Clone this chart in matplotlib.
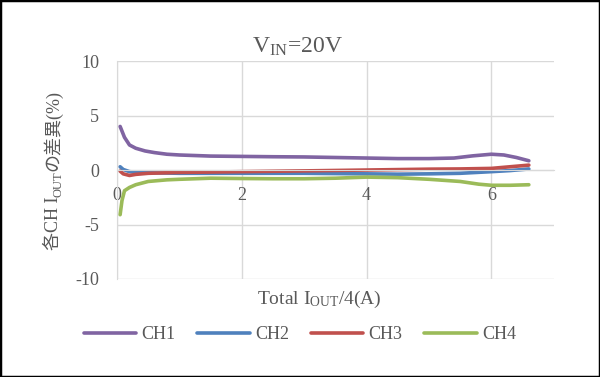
import matplotlib
matplotlib.use("Agg")
import matplotlib.pyplot as plt
from matplotlib.patches import Rectangle

plt.rcParams['font.family'] = ['Liberation Serif', 'Noto Sans CJK JP']
plt.rcParams['mathtext.fontset'] = 'custom'
plt.rcParams['mathtext.rm'] = 'Liberation Serif'
plt.rcParams['axes.unicode_minus'] = False

# データ
x_ch1 = [0.05, 0.12, 0.2, 0.3, 0.45, 0.6, 0.8, 1.0, 1.5, 2.0, 2.5, 3.0, 3.5, 4.0, 4.5, 5.0, 5.4, 5.7, 6.0, 6.2, 6.4, 6.6]
y_ch1 = [4.0, 3.0, 2.3, 2.0, 1.75, 1.6, 1.45, 1.38, 1.28, 1.25, 1.22, 1.2, 1.15, 1.1, 1.05, 1.05, 1.1, 1.3, 1.45, 1.38, 1.15, 0.85]

x_ch2 = [0.05, 0.1, 0.2, 0.3, 0.5, 1.0, 2.0, 3.0, 4.0, 4.5, 5.0, 5.5, 6.0, 6.3, 6.6]
y_ch2 = [0.3, 0.05, -0.15, -0.2, -0.25, -0.3, -0.3, -0.3, -0.35, -0.38, -0.35, -0.3, -0.15, -0.05, 0.1]

x_ch3 = [0.05, 0.1, 0.2, 0.3, 0.5, 1.0, 2.0, 3.0, 4.0, 5.0, 5.5, 6.0, 6.3, 6.6]
y_ch3 = [-0.1, -0.35, -0.5, -0.4, -0.3, -0.22, -0.15, -0.08, 0.0, 0.08, 0.1, 0.15, 0.3, 0.45]

x_ch4 = [0.05, 0.08, 0.12, 0.2, 0.3, 0.5, 0.8, 1.0, 1.5, 2.0, 2.5, 3.0, 3.5, 4.0, 4.5, 5.0, 5.5, 5.8, 6.0, 6.3, 6.6]
y_ch4 = [-4.1, -2.8, -1.9, -1.6, -1.35, -1.05, -0.9, -0.85, -0.75, -0.78, -0.8, -0.8, -0.75, -0.65, -0.7, -0.85, -1.05, -1.3, -1.4, -1.4, -1.35]

series = [("CH1", x_ch1, y_ch1, "#8064A2"),
          ("CH2", x_ch2, y_ch2, "#4F81BD"),
          ("CH3", x_ch3, y_ch3, "#C0504D"),
          ("CH4", x_ch4, y_ch4, "#9BBB59")]

txt = "#595959"
grid = "#D9D9D9"
W, H = 600, 377

fig = plt.figure(figsize=(6, 3.77), dpi=100)
ax = fig.add_axes([0.195, 0.26, 0.728, 0.578])

for name, xs, ys, c in series:
    ax.plot(xs, ys, color=c, lw=2.6, label=name, solid_capstyle='round')

ax.set_xlim(0, 7)
ax.set_ylim(-10, 10)
ax.set_xticks([0, 2, 4, 6])
ax.set_yticks([-10, -5, 0, 5, 10])
ax.grid(True, color=grid, lw=1)
ax.set_axisbelow(True)

for s in ['top', 'right']:
    ax.spines[s].set_visible(False)
ax.spines['left'].set_color(grid)
ax.spines['bottom'].set_position(('data', 0))
ax.spines['bottom'].set_color(grid)
ax.tick_params(length=0, labelsize=13, labelcolor=txt)
ax.tick_params(axis='x', pad=12)
ax.tick_params(axis='y', pad=13)

fig.text(0.495, 0.875, r"$\mathrm{V_{IN}}$=20V", ha='center', va='center', fontsize=17, color=txt)
fig.text(0.532, 0.207, r"Total $\mathrm{I_{OUT}}$/4(A)", ha='center', va='center', fontsize=14, color=txt)

# 縦軸ラベル (和文と下付き文字を分けて配置)
renderer = fig.canvas.get_renderer()
parts = [("各CH I", 13, 0), ("OUT", 9, 3), ("の差異(%)", 13, 0)]
base_x = 58
pieces = []
y = 0
for s, size, dx in parts:
    t = fig.text((base_x + dx) / W, y / H, s, rotation=90, rotation_mode='anchor',
                 ha='left', va='baseline', fontsize=size, color=txt)
    bb = t.get_window_extent(renderer)
    pieces.append((t, y))
    y = bb.y1
shift = 377 - 170 - y / 2
for t, y0 in pieces:
    t.set_y((y0 + shift) / H)

fig.legend(loc='center', bbox_to_anchor=(0.5, 0.112), ncol=4, frameon=False,
           fontsize=13, labelcolor=txt, handlelength=2.9, columnspacing=1.2, handletextpad=0.3)

fig.patches.append(Rectangle((0, 0), 1, 1, transform=fig.transFigure, fill=False,
                             edgecolor='black', lw=2.5))

fig.savefig("out.png", dpi=100)
